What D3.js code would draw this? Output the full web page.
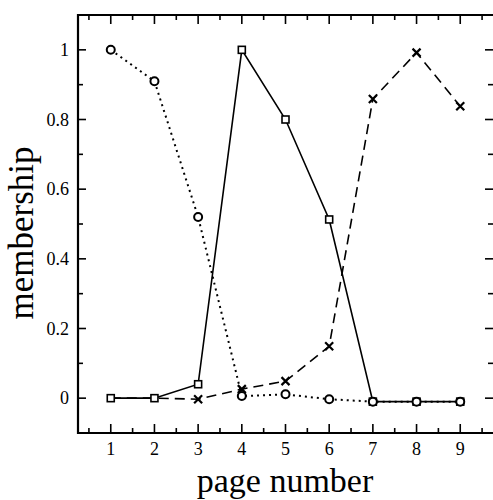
<!DOCTYPE html>
<html>
<head>
<meta charset="utf-8">
<script src="https://cdn.jsdelivr.net/npm/d3@7"></script>
<style>
  body { margin: 0; background: #fff; }
  svg { display: block; }
  text { font-family: "Liberation Serif", "DejaVu Serif", serif; fill: #000; }
</style>
</head>
<body>
<div id="chart"></div>
<script>
'use strict';

// page numbers and the three membership curves
var pages = [1, 2, 3, 4, 5, 6, 7, 8, 9];
var circleSeries = [1.0, 0.91, 0.52, 0.006, 0.011, -0.003, -0.01, -0.01, -0.01];
var squareSeries = [0, 0, 0.04, 1.0, 0.80, 0.513, -0.01, -0.01, -0.01];
var crossSeries = [0, 0, -0.003, 0.026, 0.049, 0.149, 0.859, 0.992, 0.838];
var yTicks = [0, 0.2, 0.4, 0.6, 0.8, 1];
var yTickLabels = ['0', '0.2', '0.4', '0.6', '0.8', '1'];

var w = 493, h = 500;
var padL = 78, padT = 15, padR = 493, padB = 433;

var svg = d3.select('#chart').append('svg')
  .attr('width', w)
  .attr('height', h);

var x = d3.scaleLinear().domain([0.25, 9.75]).range([padL, padR]);
var y = d3.scaleLinear().domain([-0.1, 1.1]).range([padB, padT]);

var majorX = pages;
var minorX = d3.range(0.5, 9.6, 1);
var majorY = yTicks;
var minorY = d3.range(-0.1, 1.05, 0.2).map(function(d) { return Math.round(d * 10) / 10; });

// ticks (all pointing inside the frame)
var ticks = svg.append('g').attr('stroke', '#000').attr('stroke-width', 1.6);

function xTicks(vals, len) {
  vals.forEach(function(v) {
    ticks.append('line').attr('x1', x(v)).attr('x2', x(v)).attr('y1', padB).attr('y2', padB - len);
    ticks.append('line').attr('x1', x(v)).attr('x2', x(v)).attr('y1', padT).attr('y2', padT + len);
  });
}
function yTicksDraw(vals, len) {
  vals.forEach(function(v) {
    ticks.append('line').attr('x1', padL).attr('x2', padL + len).attr('y1', y(v)).attr('y2', y(v));
    ticks.append('line').attr('x1', padR).attr('x2', padR - len).attr('y1', y(v)).attr('y2', y(v));
  });
}
xTicks(majorX, 9);
xTicks(minorX, 5);
yTicksDraw(majorY, 8);
yTicksDraw(minorY, 5);

// frame
svg.append('path')
  .attr('d', 'M' + padR + ',' + padT + 'H' + padL + 'V' + padB + 'H' + padR)
  .attr('fill', 'none')
  .attr('stroke', '#000')
  .attr('stroke-width', 2.2);

// tick labels
svg.selectAll('.xl').data(majorX).enter().append('text')
  .attr('x', function(d) { return x(d); })
  .attr('y', 455)
  .attr('text-anchor', 'middle')
  .attr('font-size', 18)
  .text(function(d) { return d; });

svg.selectAll('.yl').data(majorY).enter().append('text')
  .attr('x', 69)
  .attr('y', function(d) { return y(d) + 6; })
  .attr('text-anchor', 'end')
  .attr('font-size', 18)
  .text(function(d, i) { return yTickLabels[i]; });

// axis titles
svg.append('text')
  .attr('x', 285)
  .attr('y', 492)
  .attr('text-anchor', 'middle')
  .attr('font-size', 34)
  .text('page number');

svg.append('text')
  .attr('transform', 'translate(33,233) rotate(-90)')
  .attr('text-anchor', 'middle')
  .attr('font-size', 35)
  .text('membership');

var line = d3.line()
  .x(function(d, i) { return x(pages[i]); })
  .y(function(d) { return y(d); });

// dashed (crosses)
svg.append('path')
  .attr('d', line(crossSeries))
  .attr('fill', 'none').attr('stroke', '#000').attr('stroke-width', 1.6)
  .attr('stroke-dasharray', '10,6');

// dotted (circles)
svg.append('path')
  .attr('d', line(circleSeries))
  .attr('fill', 'none').attr('stroke', '#000').attr('stroke-width', 2)
  .attr('stroke-dasharray', '2,4');

// solid (squares)
svg.append('path')
  .attr('d', line(squareSeries))
  .attr('fill', 'none').attr('stroke', '#000').attr('stroke-width', 1.6);

// cross markers
crossSeries.forEach(function(d, i) {
  if (i < 2) return;
  var cx = x(pages[i]), cy = y(d), s = 4;
  svg.append('path')
    .attr('d', 'M' + (cx - s) + ',' + (cy - s) + 'L' + (cx + s) + ',' + (cy + s) +
      'M' + (cx - s) + ',' + (cy + s) + 'L' + (cx + s) + ',' + (cy - s))
    .attr('stroke', '#000').attr('stroke-width', 2.2);
});

// square markers
svg.selectAll('.sq').data(squareSeries).enter().append('rect')
  .attr('x', function(d, i) { return x(pages[i]) - 3.5; })
  .attr('y', function(d) { return y(d) - 3.5; })
  .attr('width', 7).attr('height', 7)
  .attr('fill', '#fff').attr('stroke', '#000').attr('stroke-width', 1.6);

// circle markers
svg.selectAll('.ci').data(circleSeries).enter().append('circle')
  .attr('cx', function(d, i) { return x(pages[i]); })
  .attr('cy', function(d) { return y(d); })
  .attr('r', 4)
  .attr('fill', '#fff').attr('stroke', '#000').attr('stroke-width', 2);
</script>
</body>
</html>
